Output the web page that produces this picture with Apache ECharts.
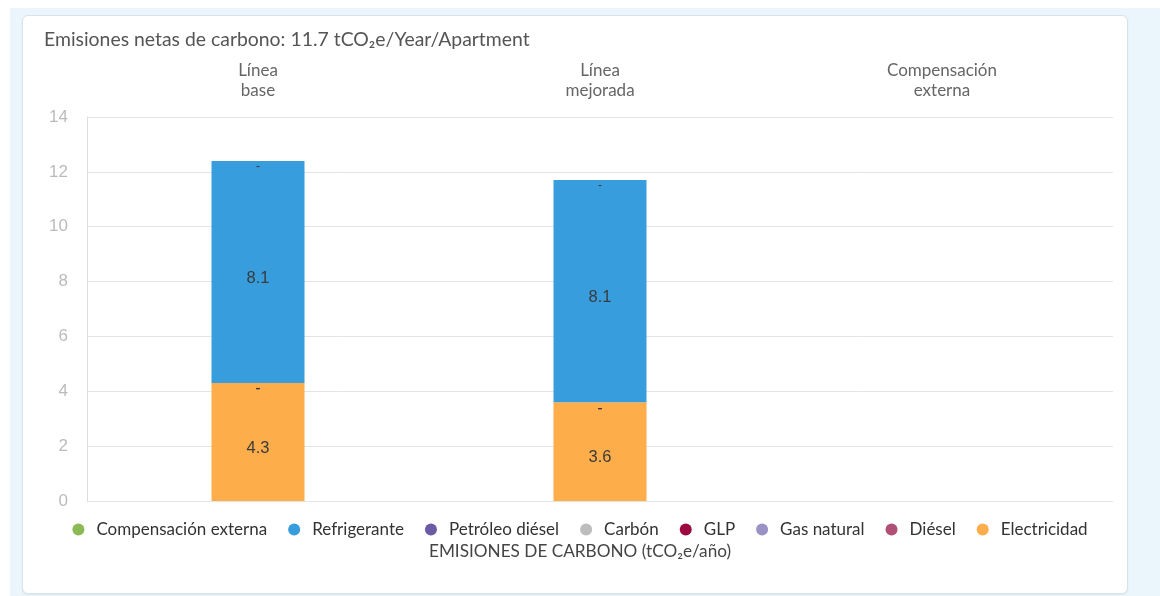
<!DOCTYPE html>
<html>
<head>
<meta charset="utf-8">
<script src="https://cdn.jsdelivr.net/npm/echarts@6/dist/echarts.min.js"></script>
<style>
  html, body { margin: 0; padding: 0; background: #ffffff; width: 1160px; height: 596px; overflow: hidden; }
  #panel { position: absolute; left: 10px; top: 8px; right: 0; bottom: 0; background: #eaf5fc; }
  #card { position: absolute; left: 22px; top: 15px; width: 1104px; height: 577px; background: #ffffff;
          border: 1px solid #d9e2e8; border-radius: 6px; box-shadow: 0 1px 2px rgba(0,0,0,0.06); }
  #chart { position: absolute; left: 0; top: 0; width: 1160px; height: 596px; }
</style>
</head>
<body>
<div id="panel"></div>
<div id="card"></div>
<div id="chart"></div>
<script>
// Scenarios shown along the top axis
const categories = ['Línea\nbase', 'Línea\nmejorada', 'Compensación\nexterna'];

// Emissions per source (tCO₂e/año); '-' marks no bar
const electricidad = [4.3, 3.6, '-'];
const diesel = [0, 0, '-'];
const gasNatural = [0, 0, '-'];
const glp = [0, 0, '-'];
const carbon = [0, 0, '-'];
const petroleoDiesel = [0, 0, '-'];
const refrigerante = [8.1, 8.1, '-'];
const compensacionExterna = [0, 0, '-'];

const yTicks = { min: 0, max: 14, interval: 2 };

const legendOrder = ['Compensación externa', 'Refrigerante', 'Petróleo diésel', 'Carbón', 'GLP', 'Gas natural', 'Diésel', 'Electricidad'];

// Stack order: bottom first
const stackSeries = [
  { name: 'Electricidad', data: electricidad, color: '#fdad4a' },
  { name: 'Diésel', data: diesel, color: '#b05077' },
  { name: 'Gas natural', data: gasNatural, color: '#9a92c4' },
  { name: 'GLP', data: glp, color: '#9a0a40' },
  { name: 'Carbón', data: carbon, color: '#bdbdbd' },
  { name: 'Petróleo diésel', data: petroleoDiesel, color: '#6c5ba4' },
  { name: 'Refrigerante', data: refrigerante, color: '#389ddd' },
  { name: 'Compensación externa', data: compensacionExterna, color: '#8bba55' }
];

// Sources with a visible segment show their value in the middle;
// empty sources show a dash at the top of the stack
const valued = ['Electricidad', 'Refrigerante'];

const chart = echarts.init(document.getElementById('chart'), null, { renderer: 'canvas' });

chart.setOption({
  animation: false,
  backgroundColor: 'transparent',
  title: [
    {
      text: 'Emisiones netas de carbono: 11.7 tCO₂e/Year/Apartment',
      left: 39, top: 25,
      textStyle: { fontFamily: 'Lato', fontSize: 19.4, fontWeight: 'normal', color: '#555555' }
    },
    {
      text: 'EMISIONES DE CARBONO (tCO₂e/año)',
      left: 'center', top: 538,
      textStyle: { fontFamily: 'Lato', fontSize: 17.2, fontWeight: 'normal', color: '#444444' }
    }
  ],
  legend: {
    data: legendOrder,
    left: 'center', top: 516,
    icon: 'circle',
    itemWidth: 26, itemHeight: 12, itemGap: 21,
    textStyle: { fontFamily: 'Lato', fontSize: 17, color: '#333333' }
  },
  grid: { left: 87, right: 47, top: 117, bottom: 95, containLabel: false },
  xAxis: {
    type: 'category',
    data: categories,
    position: 'top',
    axisLine: { show: false },
    axisTick: { show: false },
    axisLabel: { fontFamily: 'Lato', fontSize: 17, lineHeight: 20, color: '#666666', margin: 16 }
  },
  yAxis: {
    type: 'value',
    min: yTicks.min, max: yTicks.max, interval: yTicks.interval,
    axisLine: { show: true, lineStyle: { color: '#dddddd', width: 1 } },
    axisTick: { show: false },
    axisLabel: { fontFamily: 'Liberation Sans', fontSize: 17, color: '#bbbbbb', margin: 19 },
    splitLine: { lineStyle: { color: '#e4e4e4', width: 1 } }
  },
  series: stackSeries.map(s => {
    const isValued = valued.includes(s.name);
    return {
      name: s.name,
      type: 'bar',
      stack: 'total',
      barWidth: 93,
      data: s.data,
      itemStyle: { color: s.color },
      label: {
        show: true,
        position: isValued ? 'inside' : 'insideTop',
        distance: isValued ? 5 : 0,
        offset: isValued ? [0, 6] : [0, 0],
        fontFamily: 'Liberation Sans',
        fontSize: isValued ? 16.5 : 12,
        color: '#3a3a3a',
        formatter: p => (p.value === 0 ? '-' : String(p.value))
      }
    };
  })
});
</script>
</body>
</html>
